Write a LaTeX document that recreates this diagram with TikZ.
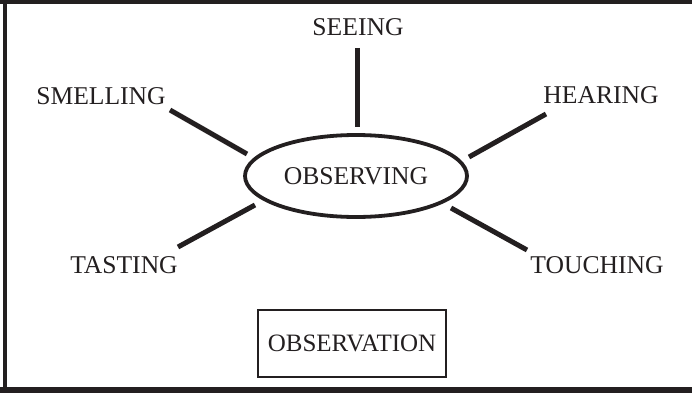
\documentclass[tikz,border=0pt]{standalone}
\usepackage{fontspec}
\setmainfont{Liberation Serif}
\usetikzlibrary{shapes.geometric}
\definecolor{ink}{HTML}{231F20}
\begin{document}
\begin{tikzpicture}[x=1pt,y=-1pt,
  lbl/.style={inner sep=0pt,font=\fontsize{25.6}{30}\selectfont,text=ink},
  spoke/.style={draw=ink,line width=5pt},
  frameline/.style={draw=ink,line width=5pt}]
\useasboundingbox (0,0) rectangle (692,393);
% frame
\draw[frameline,line width=4.5pt] (0,2) -- (692,2);
\draw[frameline,line width=4.5pt] (5,0) -- (5,393);
\draw[frameline,line width=6pt] (0,390) -- (692,390);
% centre
\node[ellipse,draw=ink,line width=3.8pt,minimum width=222pt,minimum height=82pt,inner sep=0pt] (obs) at (356,176) {};
\node[lbl] (obstext) at (356,176) {OBSERVING};
% labels
\node[lbl] (seeing) at (358,27) {SEEING};
\node[lbl] (smelling) at (101,96) {SMELLING};
\node[lbl] (hearing) at (601,95) {HEARING};
\node[lbl] (tasting) at (124,265) {TASTING};
\node[lbl] (touching) at (597,265) {TOUCHING};
% spoke ends
\coordinate (se1) at (357,48);  \coordinate (se2) at (357,127);
\coordinate (sm1) at (170,110); \coordinate (sm2) at (247,154);
\coordinate (he1) at (546,114); \coordinate (he2) at (469,157);
\coordinate (ta1) at (178,247); \coordinate (ta2) at (255,205);
\coordinate (to1) at (527,250); \coordinate (to2) at (451,208);
\draw[spoke] (se1) -- (se2);
\draw[spoke] (sm1) -- (sm2);
\draw[spoke] (he1) -- (he2);
\draw[spoke] (ta1) -- (ta2);
\draw[spoke] (to1) -- (to2);
% box
\node[draw=ink,line width=2pt,minimum width=188pt,minimum height=67pt,inner sep=0pt,font=\fontsize{25}{29}\selectfont,text=ink] (obsv) at (352,343) {OBSERVATION};
\end{tikzpicture}
\end{document}
